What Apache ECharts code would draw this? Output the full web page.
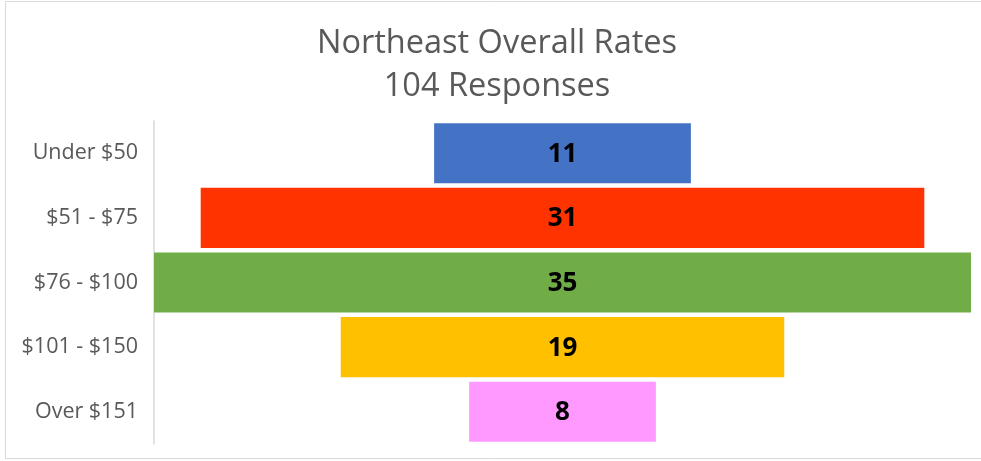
<!DOCTYPE html>
<html>
<head>
<meta charset="utf-8">
<style>
  html, body { margin: 0; padding: 0; background: #fff; }
  #chart { width: 981px; height: 461px; }
</style>
<script src="https://cdn.jsdelivr.net/npm/echarts@6/dist/echarts.min.js"></script>
</head>
<body>
<div id="chart"></div>
<script>
// categories top to bottom
const categories = ['Under $50', '$51 - $75', '$76 - $100', '$101 - $150', 'Over $151']
const responses = [11, 31, 35, 19, 8]
const barColors = ['#4472c4', '#ff3300', '#70ad47', '#ffc000', '#ff99ff']

const maxValue = Math.max(...responses)
// invisible offset so each bar sits centred
const offsets = responses.map(v => (maxValue - v) / 2)

const chart = echarts.init(document.getElementById('chart'))

chart.setOption({
  animation: false,
  backgroundColor: '#fff',
  title: {
    text: 'Northeast Overall Rates\n104 Responses',
    left: 492,
    textAlign: 'center',
    top: 17,
    textStyle: {
      fontFamily: 'Open Sans',
      fontSize: 32.5,
      fontWeight: 'normal',
      color: '#595959',
      lineHeight: 43,
    },
  },
  graphic: [{
    type: 'rect',
    shape: { x: 5.5, y: 1.5, width: 990, height: 457 },
    style: { fill: 'none', stroke: '#d9d9d9', lineWidth: 1 },
    silent: true,
  }],
  grid: { left: 154, right: 10, top: 121, bottom: 17 },
  xAxis: {
    type: 'value',
    min: 0,
    max: maxValue,
    show: false,
  },
  yAxis: {
    type: 'category',
    data: categories,
    inverse: true,
    axisTick: { show: false },
    axisLine: { lineStyle: { color: '#d9d9d9', width: 1.5 } },
    axisLabel: {
      fontFamily: 'Open Sans',
      fontSize: 21.5,
      color: '#595959',
      margin: 16,
    },
  },
  series: [
    {
      type: 'bar',
      stack: 'rate',
      data: offsets,
      itemStyle: { color: 'transparent' },
      barCategoryGap: '7%',
      silent: true,
    },
    {
      type: 'bar',
      stack: 'rate',
      data: responses.map((v, i) => ({ value: v, itemStyle: { color: barColors[i] } })),
      barCategoryGap: '7%',
      label: {
        show: true,
        position: 'inside',
        fontFamily: 'Open Sans',
        fontSize: 26,
        fontWeight: 'bold',
        color: '#000',
        offset: [0, 1],
      },
    },
  ],
})
</script>
</body>
</html>
